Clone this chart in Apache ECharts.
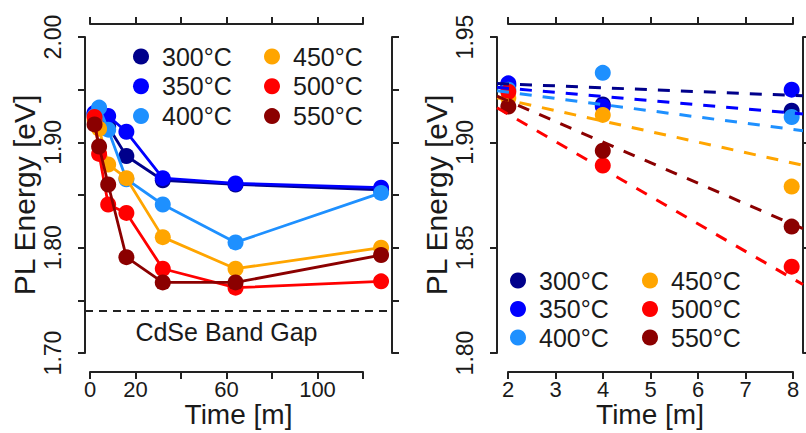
<!DOCTYPE html>
<html>
<head>
<meta charset="utf-8">
<script src="https://cdn.jsdelivr.net/npm/echarts@6/dist/echarts.min.js"></script>
<style>
  html, body { margin: 0; padding: 0; background: #ffffff; }
  #chart { width: 806px; height: 433px; }
</style>
</head>
<body>
<div id="chart"></div>
<script>
// ---------------- data ----------------
const seriesNames = ['300°C', '350°C', '400°C', '450°C', '500°C', '550°C'];
const seriesColors = ['#00008B', '#0000FF', '#1E90FF', '#FFA500', '#FF0000', '#8B0000'];

// Left panel: annealing time (minutes)
const timesLeft = [2, 4, 8, 16, 32, 64, 128];
const pl300 = [1.927, 1.918, 1.915, 1.887, 1.864, 1.860, 1.855];
const pl350 = [1.928, 1.917, 1.925, 1.910, 1.866, 1.861, 1.857];
const pl400 = [1.925, 1.933, 1.912, 1.865, 1.841, 1.805, 1.852];
const pl450 = [1.921, 1.913, 1.879, 1.866, 1.810, 1.780, 1.800];
const pl500 = [1.924, 1.889, 1.841, 1.833, 1.780, 1.762, 1.768];
const pl550 = [1.917, 1.896, 1.860, 1.791, 1.767, 1.767, 1.793];

// Right panel: first three times
const timesRight = [2, 4, 8];

// Right panel dashed linear trends, values read at the plot edges
const fitX = [1.76, 8.24];
const fit300 = [1.9279, 1.9221];
const fit350 = [1.9261, 1.9135];
const fit400 = [1.9245, 1.9055];
const fit450 = [1.9212, 1.8891];
const fit500 = [1.9164, 1.8325];
const fit550 = [1.9219, 1.8590];

// Band gap reference
const bandGapValue = 1.74;
const bandGapLabel = 'CdSe Band Gap';
const bandGapLabelPos = [60, 1.72];

// Tick labels
const leftXTickLabels = ['0', '20', '60', '100'];
const leftYTickLabels = ['1.70', '1.80', '1.90', '2.00'];
const rightYTickLabels = ['1.80', '1.85', '1.90', '1.95'];

const axisTitleX = 'Time [m]';
const axisTitleY = 'PL Energy [eV]';

// ---------------- chart ----------------
const plData = [pl300, pl350, pl400, pl450, pl500, pl550];
const fitData = [fit300, fit350, fit400, fit450, fit500, fit550];

const FONT = '"Liberation Sans", Arial, Helvetica, sans-serif';
const INK = '#1a1a1a';
const AXL = { color: '#222', width: 2 };

function frameX(gridIndex, position, min, max, interval, labelFmt) {
  return {
    type: 'value', gridIndex, position, min, max, interval,
    axisLine: { show: true, onZero: false, lineStyle: AXL },
    axisTick: { show: true, length: 7, lineStyle: AXL },
    axisLabel: labelFmt ? { show: true, margin: 8, fontSize: 22, lineHeight: 18, color: INK, fontFamily: FONT, formatter: labelFmt, hideOverlap: false }
                        : { show: false },
    splitLine: { show: false }
  };
}
function dataX(gridIndex, min, max) {
  return {
    type: 'value', gridIndex, min, max,
    axisLine: { show: false, onZero: false }, axisTick: { show: false }, axisLabel: { show: false },
    splitLine: { show: false },
    name: axisTitleX, nameLocation: 'middle', nameGap: 48,
    nameTextStyle: { fontSize: 28, lineHeight: 26, color: INK, fontFamily: FONT }
  };
}
function dataY(gridIndex, position, min, max, labels, withName) {
  const ax = {
    type: 'value', gridIndex, position, min, max, interval: 0.05,
    axisLine: { show: true, onZero: false, lineStyle: AXL },
    axisTick: { show: true, length: 7, lineStyle: AXL },
    splitLine: { show: false },
    axisLabel: labels ? {
      show: true, rotate: 90, margin: 21, fontSize: 23, color: INK, fontFamily: FONT,
      formatter: function (v) { const s = v.toFixed(2); return labels.indexOf(s) >= 0 ? s : ''; }
    } : { show: false }
  };
  if (withName) {
    ax.name = axisTitleY; ax.nameLocation = 'middle'; ax.nameGap = 46;
    ax.nameTextStyle = { fontSize: 30, color: INK, fontFamily: FONT };
  }
  return ax;
}
function legendCfg(names, left, top, gap) {
  return {
    data: names, orient: 'vertical', left, top, itemGap: gap, padding: 0,
    itemWidth: 16, itemHeight: 16, icon: 'circle',
    textStyle: { fontSize: 25, lineHeight: 24, color: INK, fontFamily: FONT, padding: [0, 0, 0, 8] }
  };
}

const series = [];
// left panel lines with points
seriesNames.forEach((n, i) => {
  series.push({
    name: n, type: 'line', xAxisIndex: 0, yAxisIndex: 0,
    data: timesLeft.map((t, k) => [t, plData[i][k]]),
    symbol: 'circle', symbolSize: 16, showSymbol: true,
    lineStyle: { color: seriesColors[i], width: 2.8 },
    itemStyle: { color: seriesColors[i] },
    z: 3 + i * 0.01
  });
});
// band gap line + label
series.push({
  name: bandGapLabel, type: 'scatter', xAxisIndex: 0, yAxisIndex: 0,
  data: [bandGapLabelPos], symbolSize: 0, itemStyle: { color: INK }, silent: true,
  label: { show: true, position: 'inside', formatter: bandGapLabel, fontSize: 25, color: INK, fontFamily: FONT, opacity: 1 },
  markLine: {
    silent: true, symbol: ['none', 'none'], label: { show: false },
    lineStyle: { color: '#222', width: 2, type: [8, 6] },
    data: [{ yAxis: bandGapValue }]
  }
});
// right panel points
seriesNames.forEach((n, i) => {
  series.push({
    name: n, type: 'scatter', xAxisIndex: 3, yAxisIndex: 3,
    data: timesRight.map((t, k) => [t, plData[i][k]]),
    symbol: 'circle', symbolSize: 16,
    itemStyle: { color: seriesColors[i], opacity: 1 },
    z: 3 + i * 0.01
  });
});
// right panel dashed trends
seriesNames.forEach((n, i) => {
  series.push({
    name: n, type: 'line', xAxisIndex: 3, yAxisIndex: 3,
    data: fitX.map((x, k) => [x, fitData[i][k]]),
    showSymbol: false, symbol: 'none',
    lineStyle: { color: seriesColors[i], width: 3, type: [12, 11] },
    itemStyle: { color: seriesColors[i] },
    z: 4 + i * 0.01
  });
});

const option = {
  animation: false,
  textStyle: { fontFamily: FONT },
  grid: [
    { left: 85, top: 37, width: 307, height: 320 },
    { left: 90, top: 24, width: 273, height: 348 },
    { left: 497, top: 37, width: 306, height: 320 },
    { left: 508, top: 24, width: 285, height: 348 }
  ],
  xAxis: [
    dataX(0, -2.2, 132.8),
    frameX(1, 'bottom', 0, 120, 20, function (v) { const s = String(v); return leftXTickLabels.indexOf(s) >= 0 ? s : ''; }),
    frameX(1, 'top', 0, 120, 20, null),
    dataX(2, 1.76, 8.24),
    frameX(3, 'bottom', 2, 8, 1, function (v) { return String(v); }),
    frameX(3, 'top', 2, 8, 1, null)
  ],
  yAxis: [
    dataY(0, 'left', 1.70, 2.00, leftYTickLabels, true),
    dataY(0, 'right', 1.70, 2.00, null, false),
    { type: 'value', gridIndex: 1, show: false, min: 0, max: 1 },
    dataY(2, 'left', 1.80, 1.95, rightYTickLabels, true),
    dataY(2, 'right', 1.80, 1.95, null, false),
    { type: 'value', gridIndex: 3, show: false, min: 0, max: 1 }
  ],
  legend: [
    legendCfg(seriesNames.slice(0, 3), 133, 44, 4.8),
    legendCfg(seriesNames.slice(3, 6), 264, 44, 4.8),
    legendCfg(seriesNames.slice(0, 3), 510, 268, 3.5),
    legendCfg(seriesNames.slice(3, 6), 642, 268, 3.5)
  ],
  series
};

const chart = echarts.init(document.getElementById('chart'), null, { renderer: 'svg' });
chart.setOption(option);
</script>
</body>
</html>
